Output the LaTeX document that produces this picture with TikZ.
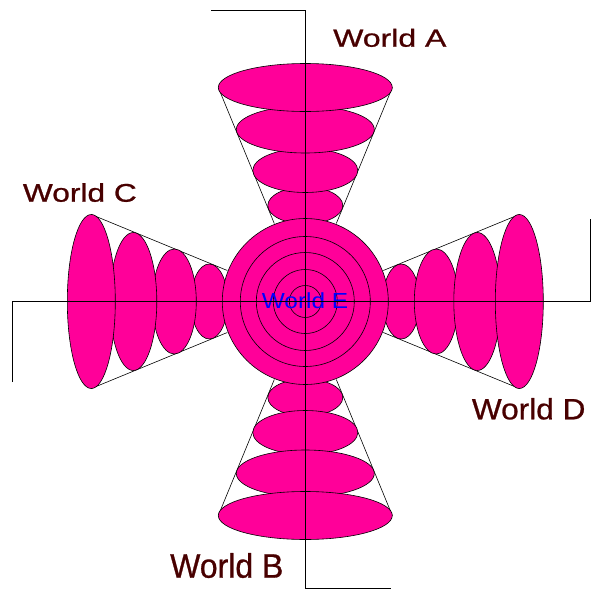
\documentclass[tikz,border=0pt]{standalone}
\usepackage{fontspec}
\setmainfont{Liberation Sans}
\newfontfamily\labfont[FakeBold=0.8]{Liberation Sans}
\definecolor{worldpink}{RGB}{255,0,153}
\definecolor{worldred}{RGB}{72,0,0}
\begin{document}
\begin{tikzpicture}[x=1pt,y=-1pt,
        blob/.style={fill=worldpink,draw=black,line width=0.6pt},
        axis/.style={draw=black,line width=0.8pt},
        lab/.style={text=worldred,inner sep=0pt,anchor=base west,font=\labfont\fontsize{20}{24}\selectfont}]
        \useasboundingbox (0,0) rectangle (600,600);
        \coordinate (o) at (305.3,301.5);
        \coordinate (ta) at (211,10.5);
        \coordinate (bb) at (391,588);
        \coordinate (lc) at (12.7,382);
        \coordinate (rd) at (590,219);
        % four cones round the centre
        \foreach \ang in {0,90,180,270}{
            \begin{scope}[shift={(o)},rotate=\ang]
                \draw[line width=0.6pt] (-87,-214) -- (-31,-78) (87,-214) -- (31,-78);
                \foreach \d/\rx/\ry in {96/37.5/18.5,131/52.5/22,172/69/23.5,214/87/24}
                    \draw[blob] (0,-\d) ellipse [x radius=\rx pt, y radius=\ry pt];
            \end{scope}
        }
        \foreach \r in {83,65,49,32,16}
            \draw[blob] (o) circle [radius=\r pt];
        \node[lab] (worldA) at (333,46.7) {\scalebox{1.60}[1.236]{World A}};
        \node[lab] (worldB) at (170,577.7) {\scalebox{1.60}[1.70]{World B}};
        \node[lab] (worldC) at (22.7,201.7) {\scalebox{1.585}[1.278]{World C}};
        \node[lab] (worldD) at (471.7,419.3) {\scalebox{1.58}[1.466]{World D}};
        \node[lab,text=blue,font=\rmfamily\fontsize{20}{24}\selectfont] (worldE) at (261.7,308.3) {\scalebox{1.22}[1.09]{World E}};
        \draw[axis] (ta) -| (o) |- (bb);
        \draw[axis] (lc) |- (o) -| (rd);
    \end{tikzpicture}
\end{document}
